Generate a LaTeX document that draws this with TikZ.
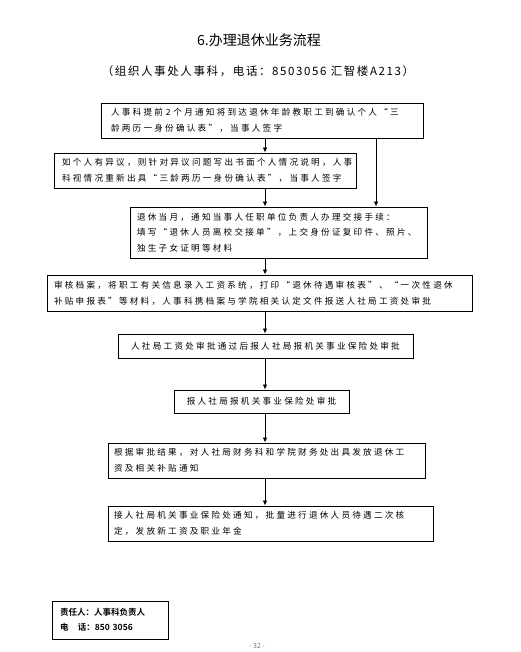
\documentclass[tikz,border=0pt]{standalone}
\usepackage{fontspec}
\usetikzlibrary{arrows.meta}
\newfontfamily\cjk[LetterSpace=26]{Noto Sans CJK SC}
\newfontfamily\cjksub[LetterSpace=14]{Noto Sans CJK SC}
\newfontfamily\cjktitle{Noto Sans CJK SC}
\newfontfamily\cjkbold[BoldFont={Noto Sans CJK SC Bold}]{Noto Sans CJK SC}
\begin{document}
\begin{tikzpicture}[x=1pt,y=-1pt,
  box/.style={draw=black,line width=0.9pt,inner sep=0pt,align=left,
    font=\cjk\fontsize{8.6}{16}\selectfont},
  cbox/.style={box,align=center},
  arr/.style={draw=black,line width=0.8pt,-{Latex[length=5pt,width=4.5pt]}}]
\useasboundingbox (0,0) rectangle (520,652);
\fill[white] (0,0) rectangle (520,652);
\node (title) at (259,40) {\cjktitle\fontsize{14}{16}\selectfont 6.办理退休业务流程};
\node (sub) at (258,71) {\cjksub\fontsize{11.5}{14}\selectfont （组织人事处人事科，电话：8503056 汇智楼A213）};

\node[box,minimum width=322pt,minimum height=35pt,text width=302pt] (b1) at (262,120.5)
  {人事科提前 2 个月通知将到达退休年龄教职工到确认个人“三\\龄两历一身份确认表”，当事人签字};
\node[box,minimum width=302pt,minimum height=35pt,text width=286pt] (b2) at (205,170.5)
  {如个人有异议，则针对异议问题写出书面个人情况说明，人事\\科视情况重新出具“三龄两历一身份确认表”，当事人签字};
\node[box,minimum width=297pt,minimum height=51pt,text width=283pt,
  font=\cjk\fontsize{8.6}{15.5}\selectfont] (b3) at (278.5,232.5)
  {退休当月，通知当事人任职单位负责人办理交接手续：\\填写“退休人员离校交接单”，上交身份证复印件、照片、\\独生子女证明等材料};
\node[box,minimum width=425pt,minimum height=36pt,text width=411pt] (b4) at (259.5,293)
  {审核档案，将职工有关信息录入工资系统，打印“退休待遇审核表”、“一次性退休\\补贴申报表”等材料，人事科携档案与学院相关认定文件报送人社局工资处审批};
\node[cbox,minimum width=295pt,minimum height=24pt] (b5) at (265.5,346)
  {人社局工资处审批通过后报人社局报机关事业保险处审批};
\node[cbox,minimum width=175pt,minimum height=23pt] (b6) at (261.5,401.5)
  {报人社局报机关事业保险处审批};
\node[box,minimum width=317pt,minimum height=35pt,text width=305pt] (b7) at (266.5,460.5)
  {根据审批结果，对人社局财务科和学院财务处出具发放退休工\\资及相关补贴通知};
\node[box,minimum width=325pt,minimum height=35pt,text width=313pt] (b8) at (270.5,523.5)
  {接人社局机关事业保险处通知，批量进行退休人员待遇二次核\\定，发放新工资及职业年金};

\node[box,minimum width=116pt,minimum height=38pt,text width=100pt,
  font=\cjkbold\bfseries\fontsize{8.5}{15}\selectfont] (resp) at (110,620)
  {责任人：人事科负责人\\电\hspace{1.1em}话：850 3056};
\node[text=black!55,font=\cjktitle\fontsize{7}{8}\selectfont] (page) at (257,646) {- 32 -};

\coordinate (ax) at (265,0);
\coordinate (rx) at (376,0);
\draw[arr] (b1.south -| ax) -- (b2.north -| ax);
\draw[arr] (b1.south -| rx) -- (b3.north -| rx);
\draw[arr] (b2.south -| ax) -- (b3.north -| ax);
\draw[arr] (b3.south -| ax) -- (b4.north -| ax);
\draw[arr] (b4.south -| ax) -- (b5.north -| ax);
\draw[arr] (b5.south -| ax) -- (b6.north -| ax);
\draw[arr] (b6.south -| ax) -- (b7.north -| ax);
\draw[arr] (b7.south -| ax) -- (b8.north -| ax);
\end{tikzpicture}
\end{document}
